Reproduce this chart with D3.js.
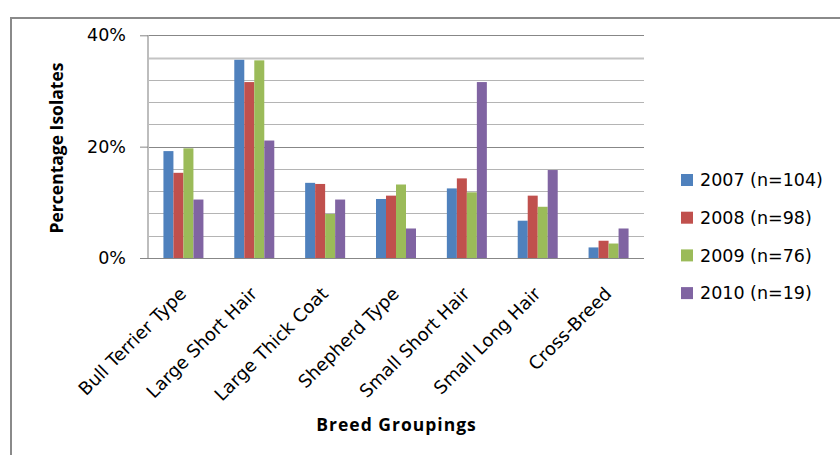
<!DOCTYPE html>
<html>
<head>
<meta charset="utf-8">
<script src="https://cdn.jsdelivr.net/npm/d3@7"></script>
<style>
  html, body { margin: 0; padding: 0; background: #ffffff; }
  svg text { font-family: "DejaVu Sans", sans-serif; fill: #000; }
  svg text.title { font-family: "Open Sans", sans-serif; font-weight: bold; }
</style>
</head>
<body>
<svg id="chart" width="840" height="455"></svg>
<script>
// Breed groups along the x axis
const categories = ["Bull Terrier Type", "Large Short Hair", "Large Thick Coat", "Shepherd Type",
                    "Small Short Hair", "Small Long Hair", "Cross-Breed"];
// Series: share of isolates per breed group (%)
const seriesNames = ["2007 (n=104)", "2008 (n=98)", "2009 (n=76)", "2010 (n=19)"];
const values2007 = [19.2, 35.6, 13.5, 10.6, 12.5, 6.7, 1.9];
const values2008 = [15.3, 31.6, 13.3, 11.2, 14.3, 11.2, 3.1];
const values2009 = [19.7, 35.5, 7.9, 13.2, 11.8, 9.2, 2.6];
const values2010 = [10.5, 21.1, 10.5, 5.3, 31.6, 15.8, 5.3];
const yTicks = [0, 20, 40];
const colors = ["#4F81BD", "#C0504D", "#9BBB59", "#8064A2"];

const seriesValues = [values2007, values2008, values2009, values2010];
const svg = d3.select("#chart");

// outer frame
svg.append("rect")
  .attr("x", 11).attr("y", 18).attr("width", 840).attr("height", 460)
  .attr("fill", "#ffffff").attr("stroke", "#8a8a8a").attr("stroke-width", 2);

const plotLeft = 148, plotRight = 644, plotTop = 35.3, plotBottom = 258;

const y = d3.scaleLinear().domain([0, 40]).range([plotBottom, plotTop]);
const x = d3.scaleBand().domain(categories).range([plotLeft, plotRight]);
const inner = d3.scaleBand().domain(seriesNames).range([0, 40]);

// gridlines every 4%
const grid = d3.range(0, 41, 4);
svg.append("g").selectAll("line").data(grid).join("line")
  .attr("x1", plotLeft).attr("x2", plotRight)
  .attr("y1", d => Math.round(y(d)) + 0.5).attr("y2", d => Math.round(y(d)) + 0.5)
  .attr("stroke", d => d % 20 === 0 ? "#878787" : (d === 36 ? "#c4c4c4" : "#b4b4b4"))
  .attr("stroke-width", d => d === 36 ? 2 : 1);

// y axis line
svg.append("line")
  .attr("x1", plotLeft).attr("x2", plotLeft).attr("y1", plotTop).attr("y2", plotBottom)
  .attr("stroke", "#bdbdbd").attr("stroke-width", 2);

// y axis ticks and labels
const yAxis = d3.axisLeft(y).tickValues(yTicks).tickSize(8).tickPadding(14)
  .tickFormat(d => d + "%");
const ya = svg.append("g").attr("transform", `translate(${plotLeft},0)`).call(yAxis);
ya.select(".domain").remove();
ya.selectAll(".tick line").attr("stroke", "#878787");
ya.selectAll(".tick text").attr("font-size", 17.5).attr("fill", "#000");

// bars
const groups = svg.append("g").selectAll("g").data(categories).join("g")
  .attr("transform", d => `translate(${x(d) + x.bandwidth() / 2 - 20},0)`);
groups.selectAll("rect")
  .data((c, i) => seriesNames.map((s, j) => ({ s, v: seriesValues[j][i], j })))
  .join("rect")
  .attr("x", d => inner(d.s))
  .attr("width", inner.bandwidth())
  .attr("y", d => y(d.v))
  .attr("height", d => plotBottom - y(d.v))
  .attr("fill", d => colors[d.j]);

// category labels, rotated
svg.append("g").selectAll("text").data(categories).join("text")
  .attr("transform", d => `translate(${x(d) + x.bandwidth() / 2 + 4},295) rotate(-45)`)
  .attr("text-anchor", "end")
  .attr("font-size", 18)
  .text(d => d);

// axis titles
svg.append("text")
  .attr("class", "title")
  .attr("transform", "translate(63,148) rotate(-90)")
  .attr("text-anchor", "middle")
  .attr("font-size", 17.5)
  .text("Percentage Isolates");

svg.append("text")
  .attr("class", "title")
  .attr("x", 396.5).attr("y", 431)
  .attr("text-anchor", "middle")
  .attr("font-size", 17.5)
  .attr("letter-spacing", 1)
  .text("Breed Groupings");

// legend
const legend = svg.append("g").selectAll("g").data(seriesNames).join("g")
  .attr("transform", (d, i) => `translate(681,${180 + i * 37.7})`);
legend.append("rect")
  .attr("x", 0).attr("y", -6).attr("width", 12).attr("height", 12)
  .attr("fill", (d, i) => colors[i]);
legend.append("text")
  .attr("x", 19).attr("y", 0).attr("dy", "0.36em")
  .attr("font-size", 17.5)
  .text(d => d);
</script>
</body>
</html>
